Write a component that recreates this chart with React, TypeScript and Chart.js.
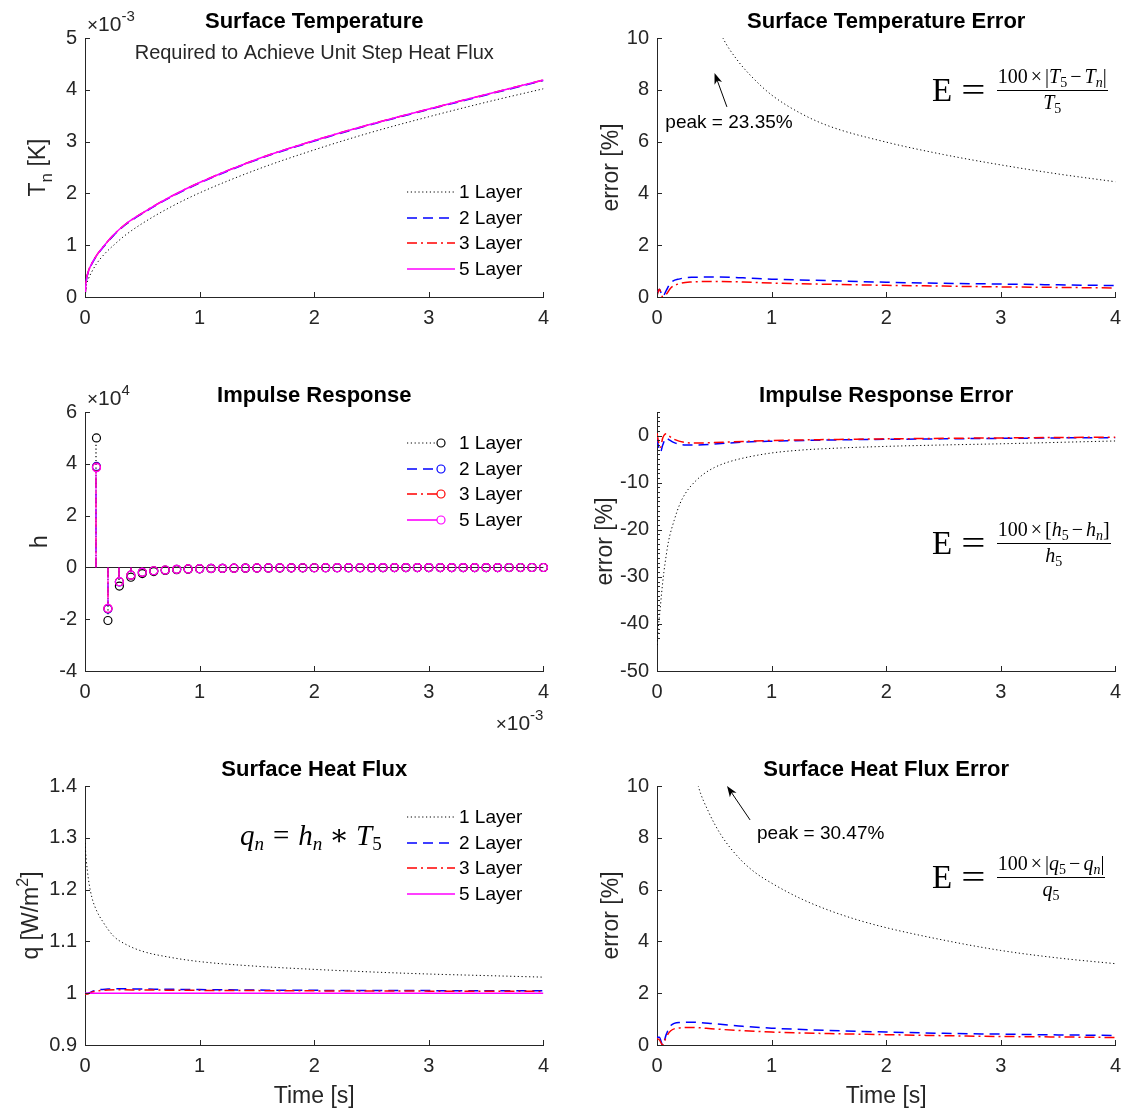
import React, { useEffect, useRef } from "react";
import { Chart, registerables } from "chart.js";
Chart.register(...registerables);

const FONT = '"Liberation Sans", Arial, Helvetica, sans-serif';
const SERIF = '"Liberation Serif", "DejaVu Serif", "Times New Roman", serif';
const AX = "#262626";

// ---------------- data ----------------
const layerNames = ["1 Layer", "2 Layer", "3 Layer", "5 Layer"];
const layerColors = ["#000000", "#0000ff", "#ff0000", "#ff00ff"];
const layerDash = [[1.2, 2.6], [10, 6], [10, 4, 2, 4], []];
const layerWidth = [1, 1.5, 1.5, 1.5];

// Surface temperature, x10^-3 K
const tempTime = [0, 0.01, 0.03, 0.06, 0.1, 0.17, 0.25, 0.35, 0.5, 0.75, 1, 1.5, 2, 2.5, 3, 3.5, 4];
const temp1 = [0, 0.2, 0.35, 0.49, 0.64, 0.83, 1.0, 1.19, 1.42, 1.74, 2.01, 2.46, 2.84, 3.18, 3.48, 3.76, 4.02];
const temp2 = [0, 0.29, 0.49, 0.64, 0.79, 0.99, 1.19, 1.39, 1.61, 1.93, 2.2, 2.65, 3.01, 3.33, 3.62, 3.9, 4.18];
const temp3 = [0, 0.3, 0.5, 0.65, 0.8, 1.0, 1.2, 1.4, 1.62, 1.94, 2.21, 2.66, 3.02, 3.34, 3.63, 3.91, 4.19];
const temp5 = [0, 0.3, 0.5, 0.65, 0.8, 1.0, 1.2, 1.4, 1.62, 1.94, 2.21, 2.66, 3.02, 3.34, 3.63, 3.91, 4.19];

// Surface temperature error, %
const errT1Time = [0.001, 0.05, 0.1, 0.2, 0.3, 0.4, 0.5, 0.575, 0.7, 0.85, 1, 1.25, 1.5, 2, 2.5, 3, 3.5, 4];
const errT1 = [23.35, 20.5, 18.5, 15.5, 13.6, 12.0, 10.8, 10.0, 9.15, 8.4, 7.8, 7.1, 6.6, 5.98, 5.5, 5.1, 4.75, 4.45];
const errT23Time = [0, 0.02, 0.05, 0.08, 0.12, 0.2, 0.3, 0.5, 0.75, 1, 1.5, 2, 2.5, 3, 3.5, 4];
const errT2 = [0.1, 0.3, 0.02, 0.25, 0.55, 0.7, 0.76, 0.77, 0.74, 0.69, 0.63, 0.57, 0.53, 0.5, 0.47, 0.44];
const errT3 = [0.05, 0.3, 0.0, 0.1, 0.35, 0.52, 0.58, 0.6, 0.58, 0.54, 0.49, 0.45, 0.42, 0.39, 0.37, 0.35];

// Impulse response, x10^4 (time x10^-3 s)
const stemTime = [0.1, 0.2, 0.3, 0.4, 0.5, 0.6, 0.7, 0.8, 0.9, 1.0, 1.1, 1.2, 1.3, 1.4, 1.5, 1.6, 1.7, 1.8, 1.9, 2.0,
  2.1, 2.2, 2.3, 2.4, 2.5, 2.6, 2.7, 2.8, 2.9, 3.0, 3.1, 3.2, 3.3, 3.4, 3.5, 3.6, 3.7, 3.8, 3.9, 4.0];
const h1 = [5.0, -2.05, -0.72, -0.38, -0.24, -0.16, -0.12, -0.09, -0.07, -0.055, -0.045, -0.038, -0.032, -0.028, -0.024,
  -0.021, -0.019, -0.017, -0.015, -0.014, -0.013, -0.012, -0.011, -0.01, -0.0095, -0.009, -0.0085, -0.008, -0.0075, -0.007,
  -0.0067, -0.0064, -0.0061, -0.0058, -0.0055, -0.0053, -0.0051, -0.0049, -0.0047, -0.0045];
const h2 = [3.9, -1.61, -0.56, -0.3, -0.19, -0.13, -0.1, -0.075, -0.06, -0.048, -0.04, -0.034, -0.029, -0.025, -0.022,
  -0.019, -0.017, -0.015, -0.014, -0.013, -0.012, -0.011, -0.01, -0.0093, -0.0087, -0.0082, -0.0077, -0.0073, -0.0069, -0.0065,
  -0.0062, -0.0059, -0.0056, -0.0054, -0.0051, -0.0049, -0.0047, -0.0045, -0.0044, -0.0042];
const h3 = [3.87, -1.59, -0.555, -0.3, -0.19, -0.13, -0.1, -0.075, -0.06, -0.048, -0.04, -0.034, -0.029, -0.025, -0.022,
  -0.019, -0.017, -0.015, -0.014, -0.013, -0.012, -0.011, -0.01, -0.0093, -0.0087, -0.0082, -0.0077, -0.0073, -0.0069, -0.0065,
  -0.0062, -0.0059, -0.0056, -0.0054, -0.0051, -0.0049, -0.0047, -0.0045, -0.0044, -0.0042];
const h5 = [3.85, -1.58, -0.55, -0.3, -0.19, -0.13, -0.1, -0.075, -0.06, -0.048, -0.04, -0.034, -0.029, -0.025, -0.022,
  -0.019, -0.017, -0.015, -0.014, -0.013, -0.012, -0.011, -0.01, -0.0093, -0.0087, -0.0082, -0.0077, -0.0073, -0.0069, -0.0065,
  -0.0062, -0.0059, -0.0056, -0.0054, -0.0051, -0.0049, -0.0047, -0.0045, -0.0044, -0.0042];

// Impulse response error, %
const errH1Time = [0.001, 0.01, 0.025, 0.04, 0.06, 0.08, 0.1, 0.15, 0.2, 0.25, 0.3, 0.4, 0.5, 0.6, 0.75, 1, 1.25, 1.5, 2, 2.5, 3, 3.5, 4];
const errH1 = [-44.5, -41, -37.5, -33.5, -29, -25.5, -22.5, -18, -14.5, -12.2, -10.6, -8.3, -6.8, -5.8, -4.8, -3.7, -3.1, -2.75, -2.3, -2.0, -1.75, -1.45, -1.15];
const errH23Time = [0, 0.015, 0.03, 0.05, 0.08, 0.1, 0.15, 0.25, 0.35, 0.5, 0.75, 1, 1.5, 2, 2.5, 3, 3.5, 4];
const errH2 = [-0.5, -2.5, -3.5, -2.0, -0.5, -0.8, -1.5, -2.0, -2.0, -1.8, -1.4, -1.2, -0.95, -0.8, -0.7, -0.6, -0.5, -0.45];
const errH3 = [0.5, -1.5, -2.5, -0.5, 0.4, 0.0, -0.8, -1.5, -1.6, -1.5, -1.25, -1.05, -0.85, -0.7, -0.6, -0.5, -0.42, -0.35];

// Surface heat flux, W/m^2
const q1Time = [0, 0.01, 0.03, 0.06, 0.1, 0.15, 0.25, 0.35, 0.5, 0.75, 1, 1.5, 2, 2.5, 3, 3.5, 4];
const q1 = [1.29, 1.26, 1.22, 1.185, 1.16, 1.14, 1.11, 1.095, 1.081, 1.069, 1.061, 1.052, 1.046, 1.041, 1.037, 1.034, 1.031];
const q23Time = [0, 0.03, 0.06, 0.1, 0.2, 0.3, 0.5, 1, 1.5, 2, 2.5, 3, 3.5, 4];
const q2 = [0.999, 1.0, 1.003, 1.006, 1.008, 1.0085, 1.008, 1.007, 1.006, 1.0055, 1.0052, 1.005, 1.0047, 1.0045];
const q3 = [0.998, 0.999, 1.002, 1.004, 1.006, 1.0065, 1.0062, 1.0055, 1.005, 1.0045, 1.0042, 1.004, 1.0037, 1.0035];
const q5Time = [0, 4];
const q5 = [1.0, 1.0];

// Surface heat flux error, %
const errQ1Time = [0.001, 0.05, 0.1, 0.15, 0.2, 0.25, 0.3, 0.36, 0.45, 0.56, 0.72, 0.85, 1, 1.25, 1.5, 1.75, 2, 2.5, 3, 3.5, 4];
const errQ1 = [30.47, 22, 18.5, 15.8, 14, 12.5, 11.2, 10.0, 9.0, 8.1, 7.2, 6.68, 6.25, 5.66, 5.2, 4.83, 4.53, 4.05, 3.65, 3.36, 3.14];
const errQ23Time = [0, 0.02, 0.05, 0.08, 0.12, 0.2, 0.3, 0.5, 0.75, 1, 1.5, 2, 2.5, 3, 3.5, 4];
const errQ2 = [0.3, 0.3, 0.0, 0.4, 0.75, 0.87, 0.88, 0.82, 0.72, 0.65, 0.56, 0.5, 0.45, 0.42, 0.39, 0.37];
const errQ3 = [0.25, 0.2, 0.0, 0.3, 0.55, 0.66, 0.68, 0.62, 0.55, 0.5, 0.44, 0.4, 0.36, 0.33, 0.31, 0.29];

// annotations: arrow head / tail and label position, in data units
const peakT = { head: [0.502, 8.65], tail: [0.61, 7.34], text: "peak = 23.35%", at: [0.073, 6.74] };
const peakQ = { head: [0.611, 10.0], tail: [0.812, 8.69], text: "peak = 30.47%", at: [0.873, 8.15] };

// ---------------- helpers ----------------
const CW = 558;
const CH = 362;

type Seg = { t: string; size: number; dy?: number; bold?: boolean; italic?: boolean };

function fontOf(s: Seg) {
  return `${s.italic ? "italic " : ""}${s.bold ? "bold " : ""}${s.size}px ${FONT}`;
}

function drawRich(ctx: CanvasRenderingContext2D, segs: Seg[], x: number, y: number, align: "left" | "center" | "right") {
  let total = 0;
  const widths = segs.map((s) => {
    ctx.font = fontOf(s);
    const w = ctx.measureText(s.t).width;
    total += w;
    return w;
  });
  let cx = align === "left" ? x : align === "center" ? x - total / 2 : x - total;
  ctx.textAlign = "left";
  ctx.textBaseline = "alphabetic";
  segs.forEach((s, i) => {
    ctx.font = fontOf(s);
    ctx.fillText(s.t, cx, y + (s.dy || 0));
    cx += widths[i];
  });
}

function mkLine(xs: number[], ys: number[], k: number) {
  return {
    label: layerNames[k],
    data: xs.map((x, i) => ({ x, y: ys[i] })),
    borderColor: layerColors[k],
    borderDash: layerDash[k],
    borderWidth: layerWidth[k],
    pointRadius: 0,
    cubicInterpolationMode: "monotone",
    fill: false,
    order: 4 - k,
  };
}

function mkStem(xs: number[], ys: number[], k: number) {
  return {
    label: layerNames[k],
    data: xs.map((x, i) => ({ x, y: ys[i] })),
    borderColor: layerColors[k],
    borderDash: layerDash[k],
    borderWidth: layerWidth[k],
    showLine: false,
    pointRadius: 4,
    pointBorderWidth: 1.2,
    pointBorderColor: layerColors[k],
    pointBackgroundColor: "rgba(0,0,0,0)",
    clip: false,
    order: 4 - k,
  };
}

type Spec = {
  L: number;
  T: number;
  x: [number, number, number];
  y: [number, number, number];
  datasets: any[];
  title: string;
  subtitle?: string;
  yTitle: Seg[];
  yTitleOff: number;
  xTitle?: string;
  expTop?: string;
  expBottom?: string;
  legend?: { x: number; y: number; markers?: boolean; lineLen: number };
  notes?: { head: number[]; tail: number[]; text: string; at: number[] }[];
  minorY?: [number, number, number];
  stems?: boolean;
};

function expSegs(e: string): Seg[] {
  return [{ t: "×", size: 19 }, { t: "10", size: 21 }, { t: e, size: 15, dy: -10 }];
}

function decor(s: Spec) {
  return {
    id: "decor",
    beforeDatasetsDraw(chart: any) {
      if (!s.stems) return;
      const { ctx, scales } = chart;
      const xs = scales.x, ys = scales.y;
      const y0 = Math.round(ys.getPixelForValue(0)) + 0.5;
      ctx.save();
      ctx.strokeStyle = AX;
      ctx.lineWidth = 1;
      ctx.beginPath();
      ctx.moveTo(xs.getPixelForValue(s.x[0]), y0);
      ctx.lineTo(xs.getPixelForValue(s.x[1]), y0);
      ctx.stroke();
      [0, 1, 2, 3].forEach((di) => {
        const ds = chart.data.datasets[di];
        ctx.strokeStyle = ds.borderColor;
        ctx.setLineDash(ds.borderDash);
        ctx.lineWidth = 1.2;
        ds.data.forEach((p: any) => {
          const px = Math.round(xs.getPixelForValue(p.x));
          const py = ys.getPixelForValue(p.y);
          const dir = py < y0 ? 4 : -4;
          if (Math.abs(py - y0) <= 4) return;
          ctx.beginPath();
          ctx.moveTo(px, y0);
          ctx.lineTo(px, py + dir);
          ctx.stroke();
        });
      });
      ctx.restore();
    },
    afterDraw(chart: any) {
      const { ctx, chartArea: ca, scales } = chart;
      const xs = scales.x, ys = scales.y;
      ctx.save();
      // inward tick marks
      ctx.strokeStyle = AX;
      ctx.lineWidth = 1;
      ctx.setLineDash([]);
      ctx.beginPath();
      xs.ticks.forEach((t: any) => {
        const px = Math.round(xs.getPixelForValue(t.value)) + 0.5;
        ctx.moveTo(px, ca.bottom);
        ctx.lineTo(px, ca.bottom - 5);
      });
      ys.ticks.forEach((t: any) => {
        const py = Math.round(ys.getPixelForValue(t.value)) + 0.5;
        ctx.moveTo(ca.left, py);
        ctx.lineTo(ca.left + 5, py);
      });
      if (s.minorY) {
        for (let v = s.minorY[0]; v <= s.minorY[1] + 1e-9; v += s.minorY[2]) {
          const py = Math.round(ys.getPixelForValue(v)) + 0.5;
          ctx.moveTo(ca.left, py);
          ctx.lineTo(ca.left + 3, py);
        }
      }
      ctx.stroke();

      const cx = (ca.left + ca.right) / 2;
      // title
      ctx.fillStyle = "#000";
      drawRich(ctx, [{ t: s.title, size: 22, bold: true }], cx, ca.top - 10, "center");
      if (s.subtitle) {
        ctx.fillStyle = AX;
        drawRich(ctx, [{ t: s.subtitle, size: 20 }], cx, ca.top + 21, "center");
      }
      // y title
      ctx.fillStyle = AX;
      ctx.save();
      ctx.translate(ca.left - s.yTitleOff, (ca.top + ca.bottom) / 2);
      ctx.rotate(-Math.PI / 2);
      drawRich(ctx, s.yTitle, 0, 0, "center");
      ctx.restore();
      // x title
      if (s.xTitle) drawRich(ctx, [{ t: s.xTitle, size: 23 }], cx, ca.bottom + 58, "center");
      // exponents
      if (s.expTop) drawRich(ctx, expSegs(s.expTop), ca.left + 2, ca.top - 7, "left");
      if (s.expBottom) drawRich(ctx, expSegs(s.expBottom), ca.right, ca.bottom + 59, "right");

      // legend
      if (s.legend) {
        const lg = s.legend;
        chart.data.datasets
          .slice()
          .sort((a: any, b: any) => b.order - a.order)
          .forEach((ds: any, i: number) => {
            const x0 = ca.left + lg.x;
            const yy = Math.round(ca.top + lg.y + i * 25.5);
            ctx.strokeStyle = ds.borderColor;
            ctx.lineWidth = ds.borderWidth > 1 ? 1.6 : 1;
            ctx.setLineDash(ds.borderDash);
            ctx.beginPath();
            ctx.moveTo(x0, yy);
            ctx.lineTo(x0 + lg.lineLen, yy);
            ctx.stroke();
            ctx.setLineDash([]);
            if (lg.markers) {
              ctx.lineWidth = 1.2;
              ctx.beginPath();
              ctx.arc(x0 + lg.lineLen + 4, yy, 4, 0, Math.PI * 2);
              ctx.stroke();
            }
            ctx.fillStyle = "#000";
            ctx.font = `19px ${FONT}`;
            ctx.textAlign = "left";
            ctx.textBaseline = "middle";
            ctx.fillText(ds.label, ca.left + lg.x + 52, yy + 1);
          });
      }
      // annotations
      (s.notes || []).forEach((n) => {
        const hx = xs.getPixelForValue(n.head[0]);
        const hy = ys.getPixelForValue(n.head[1]);
        const tx = xs.getPixelForValue(n.tail[0]);
        const ty = ys.getPixelForValue(n.tail[1]);
        const ang = Math.atan2(hy - ty, hx - tx);
        ctx.strokeStyle = "#000";
        ctx.fillStyle = "#000";
        ctx.lineWidth = 1;
        ctx.setLineDash([]);
        ctx.beginPath();
        ctx.moveTo(tx, ty);
        ctx.lineTo(hx - 6 * Math.cos(ang), hy - 6 * Math.sin(ang));
        ctx.stroke();
        const len = 11, wid = 4;
        const bx = hx - len * Math.cos(ang), by = hy - len * Math.sin(ang);
        const nx = -Math.sin(ang), ny = Math.cos(ang);
        const mx = hx - (len - 3) * Math.cos(ang), my = hy - (len - 3) * Math.sin(ang);
        ctx.beginPath();
        ctx.moveTo(hx, hy);
        ctx.lineTo(bx + nx * wid, by + ny * wid);
        ctx.lineTo(mx, my);
        ctx.lineTo(bx - nx * wid, by - ny * wid);
        ctx.closePath();
        ctx.fill();
        ctx.font = `19px ${FONT}`;
        ctx.textAlign = "left";
        ctx.textBaseline = "middle";
        ctx.fillText(n.text, xs.getPixelForValue(n.at[0]), ys.getPixelForValue(n.at[1]));
      });
      ctx.restore();
    },
  };
}

const fmt = (v: any) => String(Math.round(Number(v) * 1000) / 1000);

function buildConfig(s: Spec): any {
  const tickFont = { family: FONT, size: 20 };
  return {
    type: "line",
    data: { datasets: s.datasets },
    options: {
      responsive: false,
      animation: false,
      devicePixelRatio: 1,
      events: [],
      layout: { padding: { top: 38, right: 0, left: 0, bottom: 0 } },
      plugins: { legend: { display: false }, tooltip: { enabled: false }, title: { display: false } },
      scales: {
        x: {
          type: "linear",
          min: s.x[0],
          max: s.x[1],
          grid: { display: false, drawTicks: false },
          border: { display: true, color: AX, width: 1 },
          ticks: { stepSize: s.x[2], includeBounds: false, padding: 9, color: AX, font: tickFont, maxRotation: 0, autoSkip: false, callback: fmt },
          afterFit: (sc: any) => {
            sc.height = 65;
          },
        },
        y: {
          type: "linear",
          min: s.y[0],
          max: s.y[1],
          grid: { display: false, drawTicks: false },
          border: { display: true, color: AX, width: 1 },
          ticks: { stepSize: s.y[2], includeBounds: false, padding: 8, color: AX, font: tickFont, autoSkip: false, callback: fmt },
          afterFit: (sc: any) => {
            sc.width = 85;
          },
        },
      },
    },
    plugins: [decor(s)],
  };
}

const errTitle: Seg[] = [{ t: "error [%]", size: 23 }];

const specs: Spec[] = [
  {
    L: 85, T: 38, x: [0, 4, 1], y: [0, 5, 1],
    datasets: [mkLine(tempTime, temp1, 0), mkLine(tempTime, temp2, 1), mkLine(tempTime, temp3, 2), mkLine(tempTime, temp5, 3)],
    title: "Surface Temperature",
    subtitle: "Required to Achieve Unit Step Heat Flux",
    yTitle: [{ t: "T", size: 23 }, { t: "n", size: 17, dy: 7 }, { t: " [K]", size: 23 }],
    yTitleOff: 40,
    expTop: "-3",
    legend: { x: 322, y: 154, lineLen: 48 },
  },
  {
    L: 657, T: 38, x: [0, 4, 1], y: [0, 10, 2],
    datasets: [mkLine(errT1Time, errT1, 0), mkLine(errT23Time, errT2, 1), mkLine(errT23Time, errT3, 2)],
    title: "Surface Temperature Error",
    yTitle: errTitle,
    yTitleOff: 39,
    notes: [peakT],
  },
  {
    L: 85, T: 412, x: [0, 4, 1], y: [-4, 6, 2],
    datasets: [mkStem(stemTime, h1, 0), mkStem(stemTime, h2, 1), mkStem(stemTime, h3, 2), mkStem(stemTime, h5, 3)],
    title: "Impulse Response",
    yTitle: [{ t: "h", size: 23 }],
    yTitleOff: 38,
    expTop: "4",
    expBottom: "-3",
    legend: { x: 322, y: 31, lineLen: 30, markers: true },
    stems: true,
  },
  {
    L: 657, T: 412, x: [0, 4, 1], y: [-50, 5, 10],
    datasets: [mkLine(errH1Time, errH1, 0), mkLine(errH23Time, errH2, 1), mkLine(errH23Time, errH3, 2)],
    title: "Impulse Response Error",
    yTitle: errTitle,
    yTitleOff: 45,
    minorY: [-43, 5, 1],
  },
  {
    L: 85, T: 786, x: [0, 4, 1], y: [0.9, 1.4, 0.1],
    datasets: [mkLine(q1Time, q1, 0), mkLine(q23Time, q2, 1), mkLine(q23Time, q3, 2), mkLine(q5Time, q5, 3)],
    title: "Surface Heat Flux",
    yTitle: [{ t: "q [W/m", size: 23 }, { t: "2", size: 16, dy: -10 }, { t: "]", size: 23 }],
    yTitleOff: 47,
    xTitle: "Time [s]",
    legend: { x: 322, y: 31, lineLen: 48 },
  },
  {
    L: 657, T: 786, x: [0, 4, 1], y: [0, 10, 2],
    datasets: [mkLine(errQ1Time, errQ1, 0), mkLine(errQ23Time, errQ2, 1), mkLine(errQ23Time, errQ3, 2)],
    title: "Surface Heat Flux Error",
    yTitle: errTitle,
    yTitleOff: 39,
    xTitle: "Time [s]",
    notes: [peakQ],
  },
];

function Panel({ spec }: { spec: Spec }) {
  const ref = useRef<HTMLCanvasElement>(null);
  useEffect(() => {
    const chart = new Chart(ref.current as HTMLCanvasElement, buildConfig(spec));
    return () => chart.destroy();
  }, [spec]);
  return (
    <canvas
      ref={ref}
      width={CW}
      height={CH}
      style={{ position: "absolute", left: spec.L - 85, top: spec.T - 38, width: CW, height: CH }}
    />
  );
}

// ---------- math overlays ----------
const I = ({ children }: any) => <span style={{ fontStyle: "italic" }}>{children}</span>;
const Sub = ({ children }: any) => <span style={{ fontSize: 14, position: "relative", top: 4 }}>{children}</span>;
const Op = ({ children }: any) => <span style={{ margin: "0 3px" }}>{children}</span>;

function Formula({ left, barY, num, den }: any) {
  return (
    <div
      style={{
        position: "absolute", left, top: barY - 23, display: "flex", alignItems: "center",
        fontFamily: SERIF, color: "#000", whiteSpace: "nowrap",
      }}
    >
      <span style={{ fontSize: 33, lineHeight: "33px" }}>E</span>
      <span style={{ fontSize: 33, lineHeight: "33px", display: "inline-block", transform: "scaleX(1.3)", margin: "0 14px 0 12px" }}>=</span>
      <span style={{ display: "inline-flex", flexDirection: "column", alignItems: "center", fontSize: 20, lineHeight: "23px" }}>
        <span style={{ borderBottom: "1px solid #000", padding: "0 1px" }}>{num}</span>
        <span>{den}</span>
      </span>
    </div>
  );
}

export default function App() {
  return (
    <div style={{ position: "absolute", left: 0, top: 0, width: 1126, height: 1111, background: "#fff", overflow: "hidden" }}>
      {specs.map((s, i) => (
        <Panel key={i} spec={s} />
      ))}
      <Formula
        left={932}
        barY={88}
        num={<>100<Op>×</Op>|<I>T</I><Sub>5</Sub><Op>−</Op><I>T</I><Sub><I>n</I></Sub>|</>}
        den={<><I>T</I><Sub>5</Sub></>}
      />
      <Formula
        left={932}
        barY={541}
        num={<>100<Op>×</Op>[<I>h</I><Sub>5</Sub><Op>−</Op><I>h</I><Sub><I>n</I></Sub>]</>}
        den={<><I>h</I><Sub>5</Sub></>}
      />
      <Formula
        left={932}
        barY={875}
        num={<>100<Op>×</Op>|<I>q</I><Sub>5</Sub><Op>−</Op><I>q</I><Sub><I>n</I></Sub>|</>}
        den={<><I>q</I><Sub>5</Sub></>}
      />
      <div
        style={{
          position: "absolute", left: 240, top: 819, fontFamily: SERIF, fontSize: 29, lineHeight: "32px",
          color: "#000", whiteSpace: "nowrap",
        }}
      >
        <I>q</I>
        <span style={{ fontSize: 19, position: "relative", top: 5 }}><I>n</I></span>
        <span style={{ margin: "0 9px" }}>=</span>
        <I>h</I>
        <span style={{ fontSize: 19, position: "relative", top: 5 }}><I>n</I></span>
        <span style={{ margin: "0 7px" }}>∗</span>
        <I>T</I>
        <span style={{ fontSize: 19, position: "relative", top: 5 }}>5</span>
      </div>
    </div>
  );
}
